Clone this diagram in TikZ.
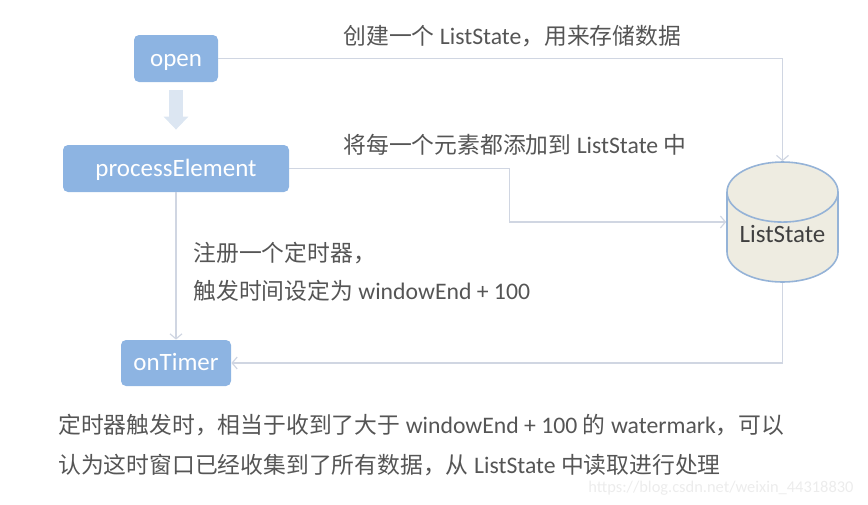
\documentclass[tikz,border=0pt]{standalone}
\usepackage{fontspec}
\setmainfont{Carlito}[Scale=1.04]
\newfontfamily\cjk{Noto Sans CJK SC}
\usepackage{tikz}
\usetikzlibrary{shapes,shapes.geometric,arrows.meta,positioning,calc}

\definecolor{boxblue}{RGB}{141,180,226}
\definecolor{bigarrowblue}{RGB}{220,230,242}
\definecolor{linkgray}{RGB}{208,214,226}
\definecolor{cylfill}{RGB}{238,236,225}
\definecolor{cylborder}{RGB}{149,179,215}
\definecolor{txtgray}{RGB}{85,85,85}
\definecolor{markgray}{RGB}{236,236,236}

\newcommand{\zh}[1]{{\cjk #1}}

\begin{document}
\begin{tikzpicture}[x=0.5pt,y=-0.5pt]
    % Stili
    \tikzset{
        funcbox/.style={rectangle, rounded corners=2.5pt, fill=boxblue, text=white, minimum height=23.5pt, inner sep=0pt, text height=0.85em, text depth=0.1em, font=\fontsize{12}{14}\selectfont},
        store/.style={cylinder, shape border rotate=90, aspect=0.7, draw=cylborder, line width=0.8pt, fill=cylfill, minimum width=55.5pt, minimum height=60pt, inner sep=0pt, text height=0.7em, text depth=0.2em, text=black!75, font=\fontsize{12}{14}\selectfont},
        link/.style={draw=linkgray, line width=0.6pt, -{Straight Barb[length=2.5pt,width=6pt]}},
        bigarrow/.style={draw=bigarrowblue, line width=7pt, -{Triangle[width=12pt,length=6.5pt]}, shorten <=4pt, shorten >=7.5pt},
        note/.style={anchor=west, inner sep=0pt, text=txtgray, font=\fontsize{11.4}{14}\selectfont}
    }
    \useasboundingbox (0,0) rectangle (868,504);

    % Funzioni
    \node[funcbox, minimum width=42pt] (open) at (176,58.5) {open};
    \node[funcbox, minimum width=113pt] (process) at (176,168.5) {processElement};
    \node[funcbox, minimum width=55pt, minimum height=23pt] (ontimer) at (176,363) {onTimer};

    % Stato
    \node[store, anchor=shape center] (liststate) at (782.5,222) {ListState};

    % Frecce
    \draw[bigarrow] (open) -- (process);
    \draw[link] (open.east) -| (liststate.north);
    \draw[link] (process.east) -- ++(220,0) |- (liststate.west |- liststate.shape center);
    \draw[link] (process) -- (ontimer);
    \draw[link] (liststate.south) |- (ontimer.east);

    % Testi
    \node[note] (createtxt) at (343,36) {\zh{创建一个} ListState\zh{，用来存储数据}};
    \node[note] (addtxt) at (343,145) {\zh{将每一个元素都添加到} ListState \zh{中}};
    \node[note] (timertxt) at (193,253) {\zh{注册一个定时器，}};
    \node[note] (firetxt) at (193,291) {\zh{触发时间设定为} windowEnd + 100};
    \node[note] (desc1) at (58,425) {\zh{定时器触发时，相当于收到了大于} windowEnd + 100 \zh{的} watermark\zh{，可以}};
    \node[note] (desc2) at (58,465) {\zh{认为这时窗口已经收集到了所有数据，从} ListState \zh{中读取进行处理}};
    \node[anchor=west, inner sep=0pt, text=markgray, font=\fontsize{7.9}{10}\selectfont] (mark) at (588,488) {https://blog.csdn.net/weixin\_44318830};
\end{tikzpicture}
\end{document}
